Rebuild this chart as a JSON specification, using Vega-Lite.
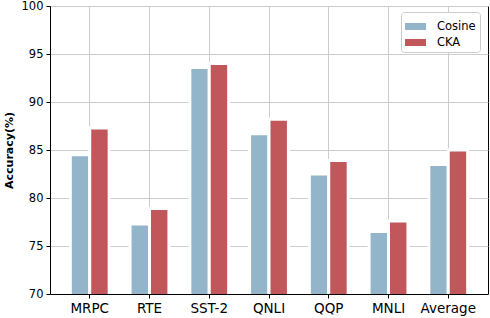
{
  "$schema": "https://vega.github.io/schema/vega-lite/v6.json",
  "width": 438,
  "height": 288,
  "autosize": {"type": "none"},
  "padding": {"left": 50, "top": 6, "right": 2, "bottom": 24},
  "background": "white",
  "data": {
    "values": [
      {"task": "MRPC", "method": "Cosine", "acc": 84.5},
      {"task": "MRPC", "method": "CKA", "acc": 87.3},
      {"task": "RTE", "method": "Cosine", "acc": 77.3},
      {"task": "RTE", "method": "CKA", "acc": 78.9},
      {"task": "SST-2", "method": "Cosine", "acc": 93.6},
      {"task": "SST-2", "method": "CKA", "acc": 94.0},
      {"task": "QNLI", "method": "Cosine", "acc": 86.7},
      {"task": "QNLI", "method": "CKA", "acc": 88.2},
      {"task": "QQP", "method": "Cosine", "acc": 82.5},
      {"task": "QQP", "method": "CKA", "acc": 83.9},
      {"task": "MNLI", "method": "Cosine", "acc": 76.5},
      {"task": "MNLI", "method": "CKA", "acc": 77.6},
      {"task": "Average", "method": "Cosine", "acc": 83.5},
      {"task": "Average", "method": "CKA", "acc": 85.0}
    ]
  },
  "mark": {"type": "bar", "clip": true, "stroke": "white", "strokeWidth": 3},
  "encoding": {
    "x": {
      "field": "task",
      "type": "nominal",
      "sort": ["MRPC", "RTE", "SST-2", "QNLI", "QQP", "MNLI", "Average"],
      "scale": {"paddingInner": 0.35, "paddingOuter": 0.34},
      "axis": {
        "title": null,
        "labelAngle": 0,
        "grid": true,
        "labelFontSize": 13.5,
        "tickSize": 4,
        "labelPadding": 3
      }
    },
    "xOffset": {
      "field": "method",
      "type": "nominal",
      "sort": ["Cosine", "CKA"],
      "scale": {"paddingInner": 0, "paddingOuter": 0}
    },
    "y": {
      "field": "acc",
      "type": "quantitative",
      "scale": {"domain": [70, 100], "zero": false, "nice": false},
      "axis": {
        "title": "Accuracy(%)",
        "values": [70, 75, 80, 85, 90, 95, 100],
        "grid": true,
        "labelFontSize": 11.5,
        "tickSize": 4,
        "labelPadding": 3,
        "titleFontSize": 11,
        "titleFontWeight": "bold",
        "titlePadding": 7
      }
    },
    "color": {
      "field": "method",
      "type": "nominal",
      "scale": {"domain": ["Cosine", "CKA"], "range": ["#93b5ca", "#c1565b"]},
      "legend": {
        "title": null,
        "orient": "none",
        "legendX": 351,
        "legendY": 6,
        "fillColor": "white",
        "strokeColor": "#cccccc",
        "cornerRadius": 3,
        "padding": 4,
        "labelFontSize": 11.5,
        "labelOffset": 11,
        "rowPadding": 0,
        "symbolType": "M-1,-0.333H1V0.333H-1Z",
        "symbolSize": 441,
        "symbolStrokeWidth": 0,
        "symbolOpacity": 1
      }
    }
  },
  "config": {
    "font": "DejaVu Sans",
    "view": {"stroke": "black", "strokeWidth": 1},
    "axis": {
      "labelFont": "DejaVu Sans",
      "titleFont": "DejaVu Sans",
      "labelColor": "black",
      "titleColor": "black",
      "tickColor": "black",
      "domainColor": "black",
      "gridColor": "#cccccc",
      "gridWidth": 1
    },
    "legend": {"labelFont": "DejaVu Sans", "labelColor": "black"}
  }
}
